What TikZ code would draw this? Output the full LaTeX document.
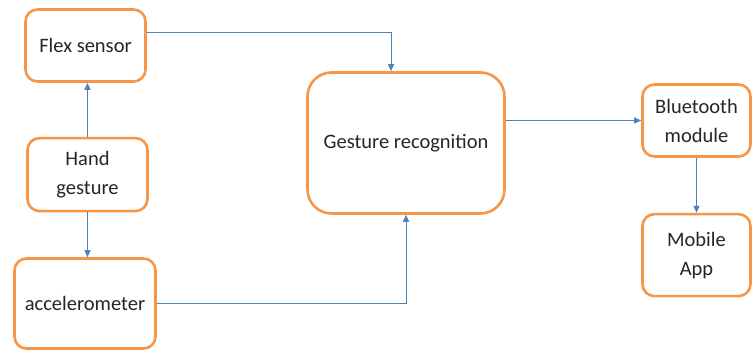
\documentclass[tikz,border=0pt]{standalone}
\usepackage{fontspec}
\setmainfont{Carlito}
\usetikzlibrary{arrows.meta,positioning}
\definecolor{boxorange}{HTML}{F79646}
\definecolor{lineblue}{HTML}{4F81BD}
\tikzset{
  every node/.append style={font=\fontsize{20.5}{29}\selectfont, text=black!85},
}
\begin{document}
\begin{tikzpicture}[
  x=1pt, y=1pt,
  block/.style={draw=boxorange, line width=2.6pt, rounded corners=12pt, align=center, fill=white},
  bigblock/.style={block, rounded corners=24pt, minimum width=197pt, minimum height=141pt},
  arr/.style={-{Triangle[length=7pt,width=6pt]}, line width=0.9pt, draw=lineblue}
]
\useasboundingbox (0,0) rectangle (754,-352);

% Left column: sensors
\node[block, minimum width=120pt, minimum height=72pt] (flex) at (85.5,-45.5) {Flex sensor};
\node[block, minimum width=120pt, minimum height=73pt, below=54pt of flex.south, anchor=north, xshift=2pt] (hand) {Hand\\gesture};
\node[block, minimum width=141pt, minimum height=90pt] (accel) at (85,-303.5) {accelerometer};

% Middle: recognition
\node[bigblock] (gest) at (406,-143) {Gesture recognition};

% Right column: output
\node[block, minimum width=108pt, minimum height=72pt] (bt) at (696.5,-120.5) {Bluetooth\\module};
\node[block, minimum width=108pt, minimum height=82pt, below=55pt of bt.south, anchor=north] (app) {Mobile\\App};

% Edges
\draw[arr] (hand.north) -- (hand.north |- flex.south);
\draw[arr] (hand.south) -- (hand.south |- accel.north);
\draw[arr] ([yshift=13.5pt]flex.east) -| ([xshift=-15pt]gest.north);
\draw[arr] (accel.east) -| (gest.south);
\draw[arr] (gest.east |- bt.west) -- (bt.west);
\draw[arr] (bt) -- (app);

\end{tikzpicture}
\end{document}
